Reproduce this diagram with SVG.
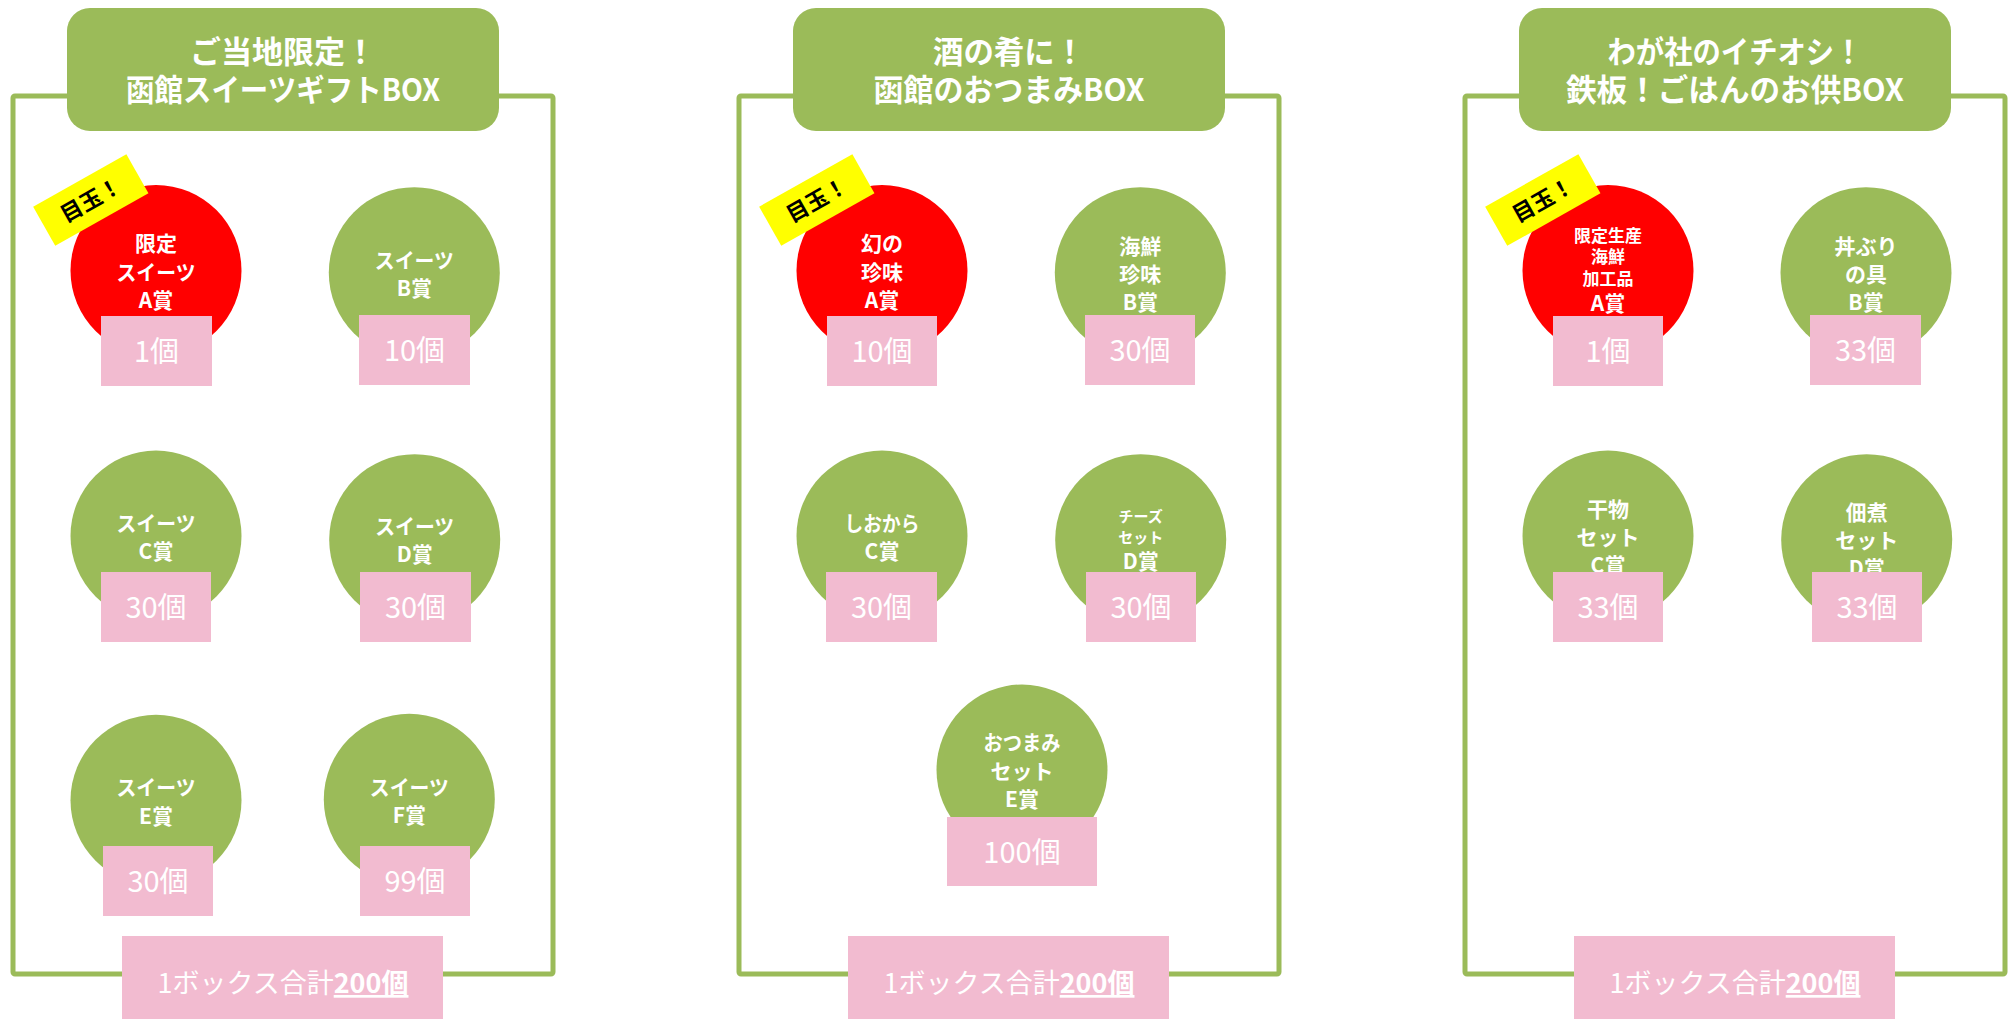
<svg xmlns="http://www.w3.org/2000/svg" width="2011" height="1019" viewBox="0 0 2011 1019">
<style>
text{font-family:"Noto Sans CJK JP","Noto Sans",sans-serif;text-anchor:middle}
.frame{fill:none;stroke:#9BBB59;stroke-width:5;stroke-linejoin:round}
.hdr{fill:#9BBB59}
.ttl{font-weight:700;font-size:31px;fill:#FFFFFF}
.red{fill:#FF0000}
.grn{fill:#9BBB59}
.lbl{font-weight:700;font-size:21px;fill:#FFFFFF}
.sm{font-size:17px}
.xs{font-size:15px}
.pk{fill:#F2BBD0}
.cnt{font-weight:400;font-size:29px;fill:#FFFFFF}
.tag{fill:#FFFF00}
.tagt{font-weight:700;font-size:22px;fill:#000000}
.tot{font-weight:400;font-size:27px;fill:#FFFFFF}
.totb{font-weight:700;text-decoration:underline}
</style>
<defs>
<g id="tagShape"><rect class="tag" x="-53.5" y="-22.5" width="107" height="45"/><text class="tagt" x="0" y="8">目玉！</text></g>
</defs>

<!-- ===== Panel 1 ===== -->
<g id="panel1">
<rect id="frame1" class="frame" x="13" y="96" width="540" height="878" rx="2"/>
<g id="header1">
<rect class="hdr" x="67" y="8" width="432" height="123" rx="23"/>
<text class="ttl"><tspan x="283" y="63">ご当地限定！</tspan><tspan x="283" y="101" textLength="314" lengthAdjust="spacingAndGlyphs">函館スイーツギフトBOX</tspan></text>
</g>
<g id="p1-A">
<circle class="red" cx="156" cy="270.5" r="85.5"/>
<text class="lbl" x="156" y="251">限定</text>
<text class="lbl" x="156" y="279.5" textLength="79" lengthAdjust="spacingAndGlyphs">スイーツ</text>
<text class="lbl" x="156" y="308">A賞</text>
<rect class="pk" x="101" y="316" width="111" height="70"/>
<text class="cnt" x="156.5" y="362">1個</text>
</g>
<g id="p1-tag" transform="translate(90.8,200) rotate(-29.4)"><use href="#tagShape"/></g>
<g id="p1-B">
<circle class="grn" cx="414.3" cy="272.7" r="85.5"/>
<text class="lbl" x="414.3" y="267.5" textLength="79" lengthAdjust="spacingAndGlyphs">スイーツ</text>
<text class="lbl" x="414.3" y="296">B賞</text>
<rect class="pk" x="359" y="315" width="111" height="70"/>
<text class="cnt" x="414.5" y="361">10個</text>
</g>
<g id="p1-C">
<circle class="grn" cx="156" cy="536" r="85.5"/>
<text class="lbl" x="156" y="530.5" textLength="79" lengthAdjust="spacingAndGlyphs">スイーツ</text>
<text class="lbl" x="156" y="559">C賞</text>
<rect class="pk" x="101" y="572" width="110" height="70"/>
<text class="cnt" x="156" y="618">30個</text>
</g>
<g id="p1-D">
<circle class="grn" cx="414.7" cy="539.7" r="85.5"/>
<text class="lbl" x="414.7" y="534" textLength="79" lengthAdjust="spacingAndGlyphs">スイーツ</text>
<text class="lbl" x="414.7" y="562">D賞</text>
<rect class="pk" x="360" y="572" width="111" height="70"/>
<text class="cnt" x="415.5" y="618">30個</text>
</g>
<g id="p1-E">
<circle class="grn" cx="156" cy="800.3" r="85.5"/>
<text class="lbl" x="156" y="795" textLength="79" lengthAdjust="spacingAndGlyphs">スイーツ</text>
<text class="lbl" x="156" y="824">E賞</text>
<rect class="pk" x="103" y="846" width="110" height="70"/>
<text class="cnt" x="158" y="892">30個</text>
</g>
<g id="p1-F">
<circle class="grn" cx="409.3" cy="799.3" r="85.5"/>
<text class="lbl" x="409.3" y="794.5" textLength="79" lengthAdjust="spacingAndGlyphs">スイーツ</text>
<text class="lbl" x="409.3" y="823">F賞</text>
<rect class="pk" x="360" y="846" width="110" height="70"/>
<text class="cnt" x="415" y="892">99個</text>
</g>
<g id="total1">
<rect class="pk" x="122" y="936" width="321" height="83"/>
<text class="tot" x="283" y="993">1ボックス合計<tspan class="totb">200個</tspan></text>
</g>
</g>

<!-- ===== Panel 2 ===== -->
<g id="panel2">
<rect id="frame2" class="frame" x="739" y="96" width="540" height="878" rx="2"/>
<g id="header2">
<rect class="hdr" x="793" y="8" width="432" height="123" rx="23"/>
<text class="ttl"><tspan x="1009" y="63" textLength="152" lengthAdjust="spacingAndGlyphs">酒の肴に！</tspan><tspan x="1009" y="101" textLength="271" lengthAdjust="spacingAndGlyphs">函館のおつまみBOX</tspan></text>
</g>
<g id="p2-A">
<circle class="red" cx="882" cy="270.5" r="85.5"/>
<text class="lbl" x="882" y="251">幻の</text>
<text class="lbl" x="882" y="279.5">珍味</text>
<text class="lbl" x="882" y="308">A賞</text>
<rect class="pk" x="827" y="316" width="110" height="70"/>
<text class="cnt" x="882" y="362">10個</text>
</g>
<g id="p2-tag" transform="translate(816.8,200) rotate(-29.4)"><use href="#tagShape"/></g>
<g id="p2-B">
<circle class="grn" cx="1140.3" cy="272.7" r="85.5"/>
<text class="lbl" x="1140.3" y="254">海鮮</text>
<text class="lbl" x="1140.3" y="282">珍味</text>
<text class="lbl" x="1140.3" y="310">B賞</text>
<rect class="pk" x="1085" y="315" width="110" height="70"/>
<text class="cnt" x="1140" y="361">30個</text>
</g>
<g id="p2-C">
<circle class="grn" cx="882" cy="536" r="85.5"/>
<text class="lbl" x="882" y="530.5" textLength="75" lengthAdjust="spacingAndGlyphs">しおから</text>
<text class="lbl" x="882" y="559">C賞</text>
<rect class="pk" x="826" y="572" width="111" height="70"/>
<text class="cnt" x="881.5" y="618">30個</text>
</g>
<g id="p2-D">
<circle class="grn" cx="1140.7" cy="539.7" r="85.5"/>
<text class="lbl xs" x="1140.7" y="522">チーズ</text>
<text class="lbl xs" x="1140.7" y="543">セット</text>
<text class="lbl" x="1140.7" y="569">D賞</text>
<rect class="pk" x="1086" y="572" width="110" height="70"/>
<text class="cnt" x="1141" y="618">30個</text>
</g>
<g id="p2-E">
<circle class="grn" cx="1022" cy="770" r="85.5"/>
<text class="lbl" x="1022" y="750" textLength="77" lengthAdjust="spacingAndGlyphs">おつまみ</text>
<text class="lbl" x="1022" y="779">セット</text>
<text class="lbl" x="1022" y="807">E賞</text>
<rect class="pk" x="947" y="817" width="150" height="69"/>
<text class="cnt" x="1022" y="863">100個</text>
</g>
<g id="total2">
<rect class="pk" x="848" y="936" width="321" height="83"/>
<text class="tot" x="1009" y="993">1ボックス合計<tspan class="totb">200個</tspan></text>
</g>
</g>

<!-- ===== Panel 3 ===== -->
<g id="panel3">
<rect id="frame3" class="frame" x="1465" y="96" width="540" height="878" rx="2"/>
<g id="header3">
<rect class="hdr" x="1519" y="8" width="432" height="123" rx="23"/>
<text class="ttl"><tspan x="1735" y="63" textLength="255" lengthAdjust="spacingAndGlyphs">わが社のイチオシ！</tspan><tspan x="1735" y="101" textLength="338" lengthAdjust="spacingAndGlyphs">鉄板！ごはんのお供BOX</tspan></text>
</g>
<g id="p3-A">
<circle class="red" cx="1608" cy="270.5" r="85.5"/>
<text class="lbl sm" x="1608" y="241.5">限定生産</text>
<text class="lbl sm" x="1608" y="263">海鮮</text>
<text class="lbl sm" x="1608" y="284.5">加工品</text>
<text class="lbl" x="1608" y="311">A賞</text>
<rect class="pk" x="1553" y="316" width="110" height="70"/>
<text class="cnt" x="1608" y="362">1個</text>
</g>
<g id="p3-tag" transform="translate(1542.8,200) rotate(-29.4)"><use href="#tagShape"/></g>
<g id="p3-B">
<circle class="grn" cx="1866" cy="272.7" r="85.5"/>
<text class="lbl" x="1866" y="254">丼ぶり</text>
<text class="lbl" x="1866" y="282">の具</text>
<text class="lbl" x="1866" y="310">B賞</text>
<rect class="pk" x="1810" y="315" width="111" height="70"/>
<text class="cnt" x="1865.5" y="361">33個</text>
</g>
<g id="p3-C">
<circle class="grn" cx="1608" cy="536" r="85.5"/>
<text class="lbl" x="1608" y="516.5">干物</text>
<text class="lbl" x="1608" y="544.5">セット</text>
<text class="lbl" x="1608" y="572.5">C賞</text>
<rect class="pk" x="1553" y="572" width="110" height="70"/>
<text class="cnt" x="1608" y="618">33個</text>
</g>
<g id="p3-D">
<circle class="grn" cx="1866.7" cy="539.7" r="85.5"/>
<text class="lbl" x="1866.7" y="519.5">佃煮</text>
<text class="lbl" x="1866.7" y="548">セット</text>
<text class="lbl" x="1866.7" y="576">D賞</text>
<rect class="pk" x="1812" y="572" width="110" height="70"/>
<text class="cnt" x="1867" y="618">33個</text>
</g>
<g id="total3">
<rect class="pk" x="1574" y="936" width="321" height="83"/>
<text class="tot" x="1735" y="993">1ボックス合計<tspan class="totb">200個</tspan></text>
</g>
</g>

<g id="connectors"/>
</svg>
